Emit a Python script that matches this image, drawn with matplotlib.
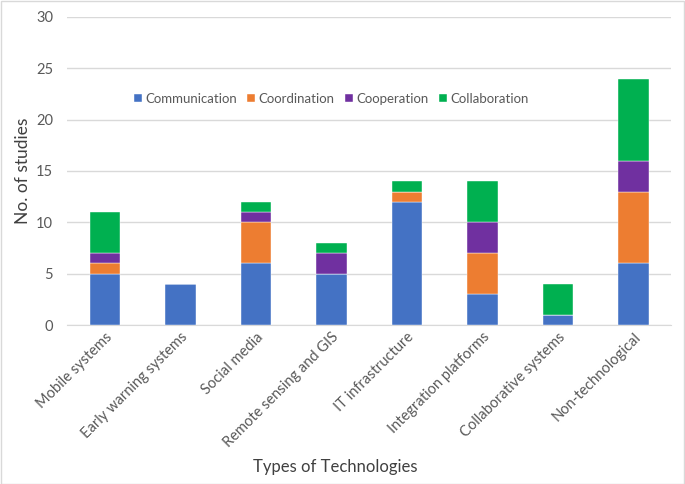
import matplotlib.pyplot as plt
import numpy as np

plt.rcParams['font.family'] = ['Lato', 'DejaVu Sans']

categorias = ["Mobile systems", "Early warning systems", "Social media",
              "Remote sensing and GIS", "IT infrastructure", "Integration platforms",
              "Collaborative systems", "Non-technological"]
series = ["Communication", "Coordination", "Cooperation", "Collaboration"]
communication = [5, 4, 6, 5, 12, 3, 1, 6]
coordination = [1, 0, 4, 0, 1, 4, 0, 7]
cooperation = [1, 0, 1, 2, 0, 3, 0, 3]
collaboration = [4, 0, 1, 1, 1, 4, 3, 8]
colores = ["#4472C4", "#ED7D31", "#7030A0", "#00B050"]

fig = plt.figure(figsize=(6.85, 4.84), dpi=100)
ax = fig.add_axes([0.098, 0.3285, 0.882, 0.6365])

x = np.arange(len(categorias))
base = np.zeros(len(categorias))
for nombre, valores, color in zip(series, [communication, coordination, cooperation, collaboration], colores):
    ax.bar(x, valores, 0.4, bottom=base, color=color, label=nombre, zorder=3,
           edgecolor="white", linewidth=0.3)
    base += np.array(valores)

gris = "#595959"
ax.set_ylim(0, 30)
ax.set_xlim(-0.5, len(categorias) - 0.5)
ax.set_yticks(range(0, 31, 5))
ax.grid(axis="y", color="#d9d9d9", linewidth=1, zorder=0)
for lado in ["top", "right", "left"]:
    ax.spines[lado].set_visible(False)
ax.spines["bottom"].set_color("#d9d9d9")
ax.tick_params(length=0, colors=gris, labelsize=10.5)
ax.tick_params(axis="y", pad=10)
ax.set_xticks(x)
ax.set_xticklabels(categorias, rotation=45, ha="right", rotation_mode="anchor")
ax.set_ylabel("No. of studies", fontsize=12.5, color="#404040", labelpad=4)
fig.text(0.49, 0.025, "Types of Technologies", ha="center", fontsize=12, color="#404040")

ax.legend(loc="center", bbox_to_anchor=(0.437, 0.735), ncol=4, frameon=False,
          fontsize=9.5, labelcolor=gris, handlelength=0.6, handleheight=0.6,
          handletextpad=0.25, columnspacing=0.8)

fig.patches.append(plt.Rectangle((0.001, 0.001), 0.997, 0.997, transform=fig.transFigure,
                                 fill=False, edgecolor="#d9d9d9", linewidth=1))

plt.savefig("out.png", dpi=100)
